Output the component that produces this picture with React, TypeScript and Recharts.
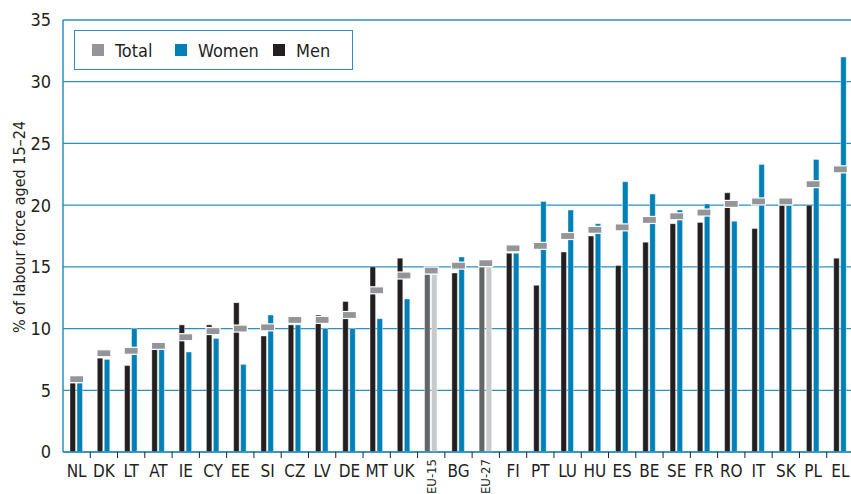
import React from "react";
import {
	ComposedChart,
	Bar,
	Line,
	XAxis,
	YAxis,
	CartesianGrid,
	Cell,
	Label,
} from "recharts";

const categories = [
	"NL", "DK", "LT", "AT", "IE", "CY", "EE", "SI", "CZ", "LV", "DE", "MT", "UK", "EU-15", "BG",
	"EU-27", "FI", "PT", "LU", "HU", "ES", "BE", "SE", "FR", "RO", "IT", "SK", "PL", "EL",
];
const men = [
	5.6, 7.6, 7.0, 8.3, 10.3, 10.3, 12.1, 9.4, 10.3, 11.1, 12.2, 15.0, 15.7, 14.4, 14.5,
	15.0, 16.1, 13.5, 16.2, 17.5, 15.1, 17.0, 18.5, 18.6, 21.0, 18.1, 20.0, 20.0, 15.7,
];
const women = [
	5.6, 7.5, 10.0, 8.3, 8.1, 9.2, 7.1, 11.1, 10.3, 10.0, 10.0, 10.8, 12.4, 14.4, 15.8,
	15.0, 16.1, 20.3, 19.6, 18.5, 21.9, 20.9, 19.6, 20.1, 18.7, 23.3, 20.0, 23.7, 32.0,
];
const total = [
	5.9, 8.0, 8.2, 8.6, 9.3, 9.8, 10.0, 10.1, 10.7, 10.7, 11.1, 13.1, 14.3, 14.7, 15.1,
	15.3, 16.5, 16.7, 17.5, 18.0, 18.2, 18.8, 19.1, 19.4, 20.1, 20.3, 20.3, 21.7, 22.9,
];
const yTicks = [0, 5, 10, 15, 20, 25, 30, 35];
const aggregates = ["EU-15", "EU-27"];

const data = categories.map((name, i) => ({
	name,
	men: men[i],
	women: women[i],
	total: total[i],
}));

const FONT = "'Liberation Sans Narrow', 'DejaVu Sans Condensed', 'Arial Narrow', sans-serif";
const INK = "#231f20";
const BLUE = "#0080b6";
const GRID = "#2a8fc2";
const GREY = "#939598";

const CHART_W = 854;
const Y_AXIS_W = 63;
const BAND = (CHART_W - Y_AXIS_W) / categories.length;

function CategoryTick(props: any) {
	const { x, y, payload, index } = props;
	const rotated = aggregates.includes(payload.value);
	return (
		<g>
			{index < categories.length - 1 && (
				<line x1={x + BAND / 2} x2={x + BAND / 2} y1={y} y2={y + 6} stroke={INK} strokeWidth={1} />
			)}
			{rotated ? (
				<text
					x={x}
					y={y + 7}
					transform={`rotate(-90 ${x} ${y + 7})`}
					textAnchor="end"
					dominantBaseline="central"
					fill={INK}
					fontSize={13}
					fontFamily={FONT}
				>
					{payload.value}
				</text>
			) : (
				<text x={x} y={y + 25} textAnchor="middle" fill={INK} fontSize={17} fontFamily={FONT}>
					{payload.value}
				</text>
			)}
		</g>
	);
}

function TotalMarker(props: any) {
	const { cx, cy } = props;
	if (cx == null || cy == null) return null;
	return (
		<rect x={cx - 7} y={cy - 3.5} width={14} height={7} fill={GREY} stroke="#ffffff" strokeWidth={1.2} />
	);
}

function LegendBox() {
	const item = (left: number, color: string, text: string) => (
		<div style={{ position: "absolute", left, top: 0, height: 38, display: "flex", alignItems: "center" }}>
			<span style={{ width: 12, height: 12, background: color, display: "inline-block", marginRight: 11 }} />
			<span style={{ fontSize: 18, color: INK, fontFamily: FONT }}>{text}</span>
		</div>
	);
	return (
		<div
			style={{
				position: "absolute",
				left: 74,
				top: 30,
				width: 277,
				height: 38,
				border: `1.5px solid ${GRID}`,
				background: "#ffffff",
			}}
		>
			{item(17, GREY, "Total")}
			{item(100, BLUE, "Women")}
			{item(198, INK, "Men")}
		</div>
	);
}

export default function App() {
	return (
		<div
			style={{
				position: "fixed",
				left: 0,
				top: 0,
				width: 851,
				height: 494,
				overflow: "hidden",
				background: "#ffffff",
			}}
		>
			<ComposedChart
				width={CHART_W}
				height={494}
				data={data}
				margin={{ top: 20, right: 0, bottom: 0, left: 0 }}
				barSize={5.5}
				barGap={1.5}
			>
				<CartesianGrid vertical={false} stroke={GRID} strokeWidth={1.3} />
				<XAxis
					dataKey="name"
					interval={0}
					height={42}
					tickLine={false}
					tickSize={0}
					tickMargin={0}
					axisLine={{ stroke: GRID, strokeWidth: 1.5 }}
					tick={<CategoryTick />}
				/>
				<YAxis
					domain={[0, 35]}
					ticks={yTicks}
					width={Y_AXIS_W}
					tickLine={false}
					tickSize={0}
					tickMargin={12}
					axisLine={{ stroke: GRID, strokeWidth: 1.5 }}
					tick={{ fill: INK, fontSize: 18, fontFamily: FONT }}
				>
					<Label
						content={({ viewBox }: any) => {
							const cy = viewBox.y + viewBox.height / 2 - 9;
							return (
								<text
									x={19}
									y={cy}
									transform={`rotate(-90 19 ${cy})`}
									textAnchor="middle"
									dominantBaseline="central"
									fill={INK}
									fontSize={16}
									fontFamily={FONT}
								>
									% of labour force aged 15–24
								</text>
							);
						}}
					/>
				</YAxis>
				<Bar dataKey="men" name="Men" fill={INK} stroke="#ffffff" strokeWidth={0.4} isAnimationActive={false}>
					{data.map((d, i) => (
						<Cell key={`m-${i}`} fill={aggregates.includes(d.name) ? "#646567" : INK} />
					))}
				</Bar>
				<Bar dataKey="women" name="Women" fill={BLUE} stroke="#ffffff" strokeWidth={0.4} isAnimationActive={false}>
					{data.map((d, i) => (
						<Cell key={`w-${i}`} fill={aggregates.includes(d.name) ? "#c8c9cb" : BLUE} />
					))}
				</Bar>
				<Line
					dataKey="total"
					name="Total"
					stroke="none"
					dot={<TotalMarker />}
					activeDot={false}
					isAnimationActive={false}
				/>
			</ComposedChart>
			<LegendBox />
		</div>
	);
}
